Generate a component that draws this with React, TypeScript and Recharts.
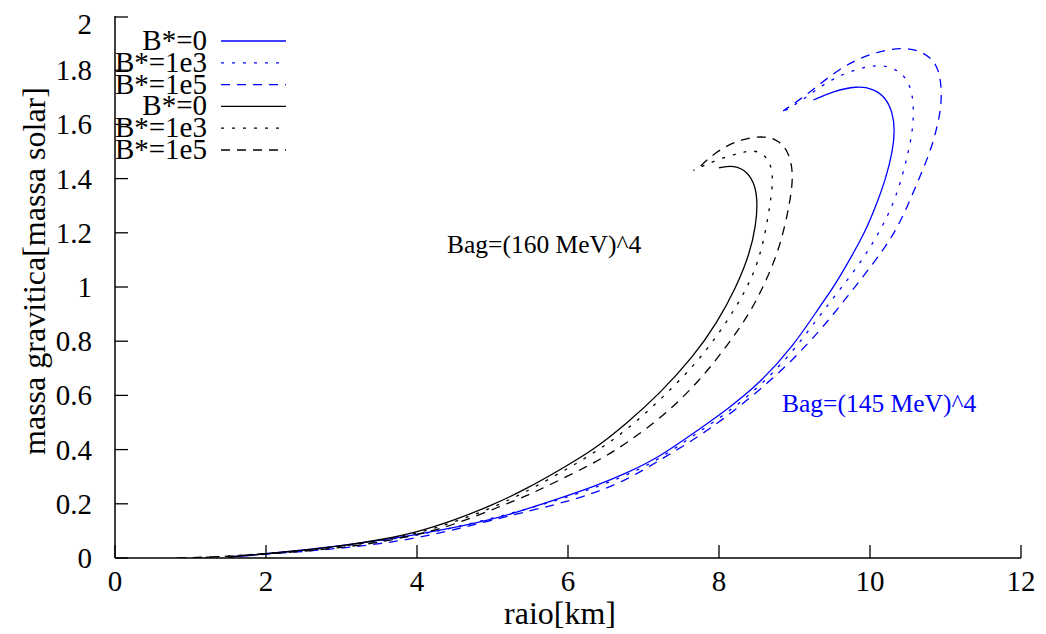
import { LineChart, Line, XAxis, YAxis } from "recharts";

// raio [km], massa [massa solar]
const black0 = [
  [1.5, 0.003], [2, 0.016], [2.5, 0.028], [3, 0.045], [3.5, 0.066], [4, 0.095],
  [4.5, 0.14], [5, 0.195], [5.45, 0.255], [5.89, 0.325], [6.34, 0.399], [6.78, 0.497],
  [7.22, 0.608], [7.66, 0.743], [7.97, 0.866], [8.23, 1.0], [8.41, 1.125], [8.49, 1.23],
  [8.51, 1.31], [8.48, 1.375], [8.38, 1.425], [8.2, 1.45], [8.0, 1.44],
];
const black1e3 = [
  [1.2, 0.002], [2, 0.016], [2.5, 0.027], [3, 0.043], [3.5, 0.064], [4, 0.09],
  [4.5, 0.133], [5, 0.185], [5.45, 0.245], [5.89, 0.313], [6.34, 0.386], [6.78, 0.472],
  [7.22, 0.583], [7.66, 0.706], [7.97, 0.817], [8.23, 0.927], [8.45, 1.038], [8.59, 1.161],
  [8.68, 1.309], [8.72, 1.4], [8.68, 1.46], [8.58, 1.493], [8.45, 1.505], [8.28, 1.495],
  [7.97, 1.47], [7.66, 1.43],
];
const black1e5 = [
  [0.82, 0.0], [1.2, 0.003], [1.6, 0.008], [2, 0.015], [2.5, 0.025], [3, 0.038],
  [3.5, 0.058], [4, 0.085], [4.5, 0.123], [5.1, 0.19], [5.5, 0.235], [5.89, 0.288],
  [6.34, 0.349], [6.78, 0.423], [7.31, 0.534], [7.75, 0.657], [8.1, 0.78], [8.41, 0.903],
  [8.63, 1.026], [8.81, 1.149], [8.94, 1.309], [8.99, 1.42], [8.92, 1.5], [8.8, 1.538],
  [8.63, 1.558], [8.3, 1.548], [7.95, 1.5], [7.7, 1.43],
];
const blue0 = [
  [1.52, 0.004], [2, 0.015], [2.9, 0.041], [4, 0.085], [4.88, 0.133], [5.4, 0.175],
  [5.89, 0.22], [6.34, 0.263], [6.78, 0.313], [7.22, 0.374], [7.66, 0.46], [8.1, 0.546],
  [8.54, 0.645], [8.98, 0.78], [9.34, 0.93], [9.52, 1.0], [9.73, 1.1], [9.93, 1.2],
  [10.08, 1.3], [10.21, 1.4], [10.3, 1.5], [10.33, 1.58], [10.3, 1.645], [10.2, 1.702],
  [10.04, 1.732], [9.83, 1.742], [9.51, 1.722], [9.25, 1.69],
];
const blue1e3 = [
  [1.52, 0.004], [2, 0.015], [2.9, 0.039], [4, 0.08], [5, 0.145], [5.89, 0.215],
  [6.34, 0.258], [6.78, 0.305], [7.22, 0.366], [7.66, 0.452], [8.1, 0.533], [8.54, 0.633],
  [8.98, 0.76], [9.4, 0.92], [9.63, 1.0], [9.9, 1.1], [10.12, 1.2], [10.3, 1.3],
  [10.42, 1.4], [10.51, 1.5], [10.57, 1.585], [10.58, 1.67], [10.54, 1.743], [10.4, 1.8],
  [10.13, 1.823], [9.83, 1.805], [9.47, 1.766], [9.16, 1.7], [8.85, 1.646],
];
const blue1e5 = [
  [1.52, 0.004], [2, 0.014], [2.9, 0.032], [4, 0.068], [5.1, 0.148], [5.89, 0.2],
  [6.34, 0.239], [6.78, 0.288], [7.22, 0.362], [7.66, 0.435], [8.1, 0.521], [8.54, 0.62],
  [8.98, 0.731], [9.34, 0.841], [9.56, 0.915], [9.8, 1.0], [10.08, 1.1], [10.33, 1.2],
  [10.5, 1.3], [10.65, 1.4], [10.8, 1.5], [10.9, 1.6], [10.95, 1.68], [10.94, 1.768],
  [10.87, 1.83], [10.7, 1.868], [10.44, 1.886], [10.04, 1.866], [9.6, 1.81],
  [9.2, 1.716], [8.85, 1.65],
];

const xTicks = [0, 2, 4, 6, 8, 10, 12];
const yTicks = [0, 0.2, 0.4, 0.6, 0.8, 1, 1.2, 1.4, 1.6, 1.8, 2];

const BLUE = "#0000ff";
const DOTTED = "3 8";
const DASHED = "9 7";

const series = [
  { name: "B*=0", pts: blue0, color: BLUE, dash: undefined },
  { name: "B*=1e3", pts: blue1e3, color: BLUE, dash: DOTTED },
  { name: "B*=1e5", pts: blue1e5, color: BLUE, dash: DASHED },
  { name: "B*=0", pts: black0, color: "#000", dash: undefined },
  { name: "B*=1e3", pts: black1e3, color: "#000", dash: DOTTED },
  { name: "B*=1e5", pts: black1e5, color: "#000", dash: DASHED },
];

const FONT = "'Liberation Serif', 'Times New Roman', serif";
const W = 1038;
const H = 626;

function BottomTick({ x, y, payload }: any) {
  return (
    <g>
      <line x1={x} x2={x} y1={y} y2={y - 13} stroke="#000" strokeWidth={1.3} />
      <text x={x} y={y + 33} textAnchor="middle" fontSize={29} fontFamily={FONT} fill="#000">
        {payload.value}
      </text>
    </g>
  );
}

function TopTick({ x, y }: any) {
  return <line x1={x} x2={x} y1={y} y2={y + 13} stroke="#000" strokeWidth={1.3} />;
}

function LeftTick({ x, y, payload }: any) {
  return (
    <g>
      <line x1={x} x2={x + 13} y1={y} y2={y} stroke="#000" strokeWidth={1.3} />
      <text
        x={x - 23}
        y={Math.max(y + 10, 26)}
        textAnchor="end"
        fontSize={29}
        fontFamily={FONT}
        fill="#000"
      >
        {payload.value}
      </text>
    </g>
  );
}

function RightTick({ x, y }: any) {
  return <line x1={x} x2={x - 13} y1={y} y2={y} stroke="#000" strokeWidth={1.3} />;
}

export default function App() {
  return (
    <div style={{ position: "relative", width: W, height: H }}>
      <LineChart width={W} height={H} margin={{ top: 8, right: 25, bottom: 0, left: 0 }}>
        <XAxis
          type="number"
          dataKey="r"
          domain={[0, 12]}
          ticks={xTicks}
          allowDataOverflow
          height={76}
          tickSize={0}
          tickMargin={0}
          tick={<BottomTick />}
          axisLine={{ stroke: "#000", strokeWidth: 1.5 }}
        />
        <XAxis
          xAxisId="top"
          orientation="top"
          type="number"
          domain={[0, 12]}
          ticks={xTicks}
          height={0}
          tickSize={0}
          tickMargin={0}
          tick={<TopTick />}
          axisLine={{ stroke: "#000", strokeWidth: 1.5 }}
        />
        <YAxis
          type="number"
          domain={[0, 2]}
          ticks={yTicks}
          allowDataOverflow
          width={107}
          tickSize={0}
          tickMargin={0}
          tick={<LeftTick />}
          axisLine={{ stroke: "#000", strokeWidth: 1.5 }}
        />
        <YAxis
          yAxisId="right"
          orientation="right"
          type="number"
          domain={[0, 2]}
          ticks={yTicks}
          width={0}
          tickSize={0}
          tickMargin={0}
          tick={<RightTick />}
          axisLine={{ stroke: "#000", strokeWidth: 1.5 }}
        />
        {series.map((s, i) => (
          <Line
            key={i}
            data={s.pts.map(([r, m]) => ({ r, m }))}
            dataKey="m"
            type="basis"
            stroke={s.color}
            strokeWidth={1.3}
            strokeDasharray={s.dash}
            dot={false}
            activeDot={false}
            isAnimationActive={false}
          />
        ))}
      </LineChart>
      <svg
        width={W}
        height={H}
        style={{ position: "absolute", left: 0, top: 0, pointerEvents: "none" }}
        fontFamily={FONT}
      >
        {series.map((s, i) => {
          const cy = 33 + i * 21.8;
          return (
            <g key={i}>
              <text x={199} y={cy + 9} textAnchor="end" fontSize={29} fill="#000">
                {s.name}
              </text>
              <line
                x1={213}
                x2={278}
                y1={cy}
                y2={cy}
                stroke={s.color}
                strokeWidth={1.3}
                strokeDasharray={s.dash}
              />
            </g>
          );
        })}
        <text x={439} y={245} fontSize={25.5} fill="#000">
          Bag=(160 MeV)^4
        </text>
        <text x={774} y={404} fontSize={25.5} fill={BLUE}>
          Bag=(145 MeV)^4
        </text>
        <text x={552} y={616} textAnchor="middle" fontSize={32} fill="#000">
          raio[km]
        </text>
        <text
          x={0}
          y={0}
          transform="translate(37,263) rotate(-90)"
          textAnchor="middle"
          fontSize={32}
          fill="#000"
        >
          massa gravitica[massa solar]
        </text>
      </svg>
    </div>
  );
}
